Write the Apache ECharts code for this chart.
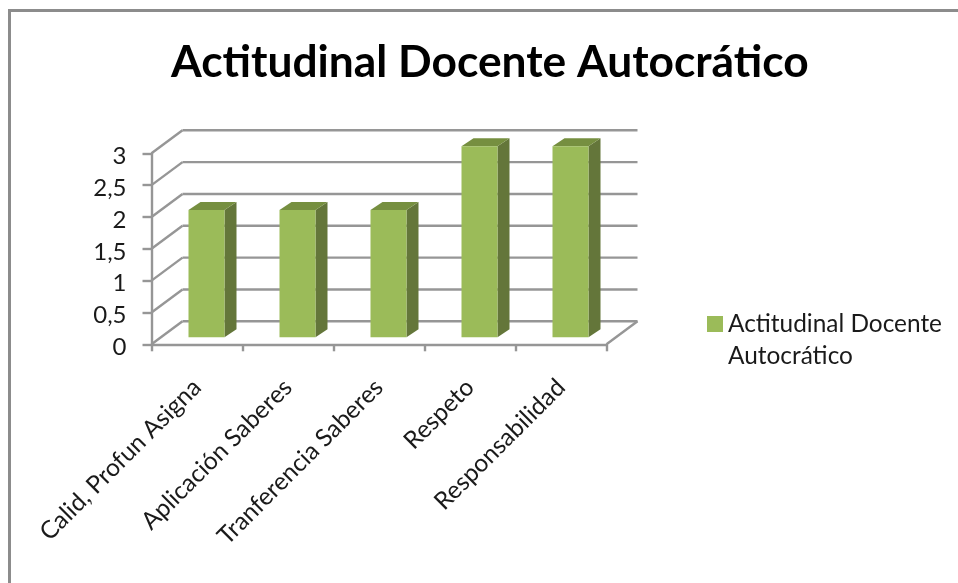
<!DOCTYPE html>
<html>
<head>
<meta charset="utf-8">
<style>
  html, body { margin: 0; padding: 0; background: #fff; }
  #chart { width: 958px; height: 583px; }
</style>
<script src="https://cdn.jsdelivr.net/npm/echarts@6/dist/echarts.min.js"></script>
</head>
<body>
<div id="chart"></div>
<script>
let titleText = 'Actitudinal Docente Autocrático'
let seriesName = 'Actitudinal Docente Autocrático'
let categories = ['Calid, Profun Asigna', 'Aplicación Saberes', 'Tranferencia Saberes', 'Respeto', 'Responsabilidad']
let values = [2, 2, 2, 3, 3]
let yTicks = [0, 0.5, 1, 1.5, 2, 2.5, 3]

let fontName = 'Lato'
let lineGrey = '#969696'
// pseudo 3d offsets, in pixels
let wallDx = 31
let wallDy = 23
let barDx = 9.5
let barDy = 7
let barWidth = 36
let sideDx = 12
let sideDy = 8

function renderWall (params, api) {
  let v = api.value(0)
  let sys = params.coordSys
  let y = api.coord([0, v])[1]
  let style = { stroke: lineGrey, lineWidth: 2.4, fill: null }
  let children = [
    { type: 'line', shape: { x1: sys.x, y1: y, x2: sys.x + wallDx, y2: y - wallDy }, style: style },
    { type: 'line', shape: { x1: sys.x + wallDx, y1: y - wallDy, x2: sys.x + sys.width + wallDx, y2: y - wallDy }, style: style }
  ]
  if (v === 0) {
    children.push({
      type: 'line',
      shape: { x1: sys.x + sys.width, y1: y, x2: sys.x + sys.width + wallDx, y2: y - wallDy },
      style: style
    })
  }
  return { type: 'group', children: children }
}

function renderBar (params, api) {
  let top = api.coord([api.value(0), api.value(1)])
  let base = api.coord([api.value(0), 0])
  let x0 = top[0] + barDx - barWidth / 2
  let x1 = x0 + barWidth
  let y0 = top[1] - barDy
  let y1 = base[1] - barDy
  return {
    type: 'group',
    children: [
      {
        type: 'polygon',
        shape: { points: [[x1, y0], [x1 + sideDx, y0 - sideDy], [x1 + sideDx, y1 - sideDy], [x1, y1]] },
        style: { fill: '#64763a' }
      },
      {
        type: 'polygon',
        shape: { points: [[x0, y0], [x0 + sideDx, y0 - sideDy], [x1 + sideDx, y0 - sideDy], [x1, y0]] },
        style: { fill: '#768f40' }
      },
      {
        type: 'rect',
        shape: { x: x0, y: y0, width: barWidth, height: y1 - y0 },
        style: { fill: '#9bbb59' }
      }
    ]
  }
}

let chart = echarts.init(document.getElementById('chart'), null, { renderer: 'canvas' })

chart.setOption({
  animation: false,
  backgroundColor: '#fff',
  textStyle: { fontFamily: fontName },
  title: {
    text: titleText,
    left: 171,
    top: 41,
    padding: 0,
    textStyle: { fontFamily: fontName, fontSize: 44.3, fontWeight: 'bold', color: '#000' }
  },
  legend: {
    left: 707,
    top: 276,
    padding: 0,
    itemWidth: 16,
    itemHeight: 16,
    itemGap: 0,
    data: [{ name: seriesName, icon: 'rect', itemStyle: { color: '#9bbb59' } }],
    // leading blank line keeps the swatch level with the first text line
    formatter: function () { return '\nActitudinal Docente\nAutocrático' },
    textStyle: { fontFamily: fontName, fontSize: 24.4, color: '#1a1a1a', lineHeight: 32 }
  },
  grid: { left: 151.5, top: 153.3, width: 455, height: 191 },
  xAxis: {
    type: 'category',
    data: categories,
    axisLine: { lineStyle: { color: lineGrey, width: 2.4 } },
    axisTick: { show: true, length: 7, alignWithLabel: false, lineStyle: { color: lineGrey, width: 2.4 } },
    axisLabel: { rotate: 45, interval: 0, margin: 39, fontFamily: fontName, fontSize: 24.5, color: '#1a1a1a' }
  },
  yAxis: {
    type: 'value',
    min: 0,
    max: 3,
    interval: 0.5,
    splitLine: { show: false },
    axisLine: { show: true, lineStyle: { color: lineGrey, width: 2.4 } },
    axisTick: { show: true, length: 9, lineStyle: { color: lineGrey, width: 2.4 } },
    axisLabel: {
      margin: 25,
      // labels sit a little under their ticks
      verticalAlign: 'top',
      lineHeight: 6,
      fontFamily: fontName,
      fontSize: 24,
      color: '#1a1a1a',
      formatter: function (v) { return String(v).replace('.', ',') }
    }
  },
  graphic: [{
    type: 'polyline',
    silent: true,
    shape: { points: [[9.5, 583], [9.5, 10.5], [958, 10.5]] },
    style: { stroke: '#8c8c8c', lineWidth: 3, fill: null }
  }],
  series: [
    {
      type: 'custom',
      name: 'wall',
      silent: true,
      z: 1,
      renderItem: renderWall,
      encode: { y: 0 },
      data: yTicks.map(function (v) { return [v] })
    },
    {
      type: 'custom',
      name: seriesName,
      z: 3,
      renderItem: renderBar,
      encode: { x: 0, y: 1 },
      data: values.map(function (v, i) { return [i, v] })
    }
  ]
})
</script>
</body>
</html>
